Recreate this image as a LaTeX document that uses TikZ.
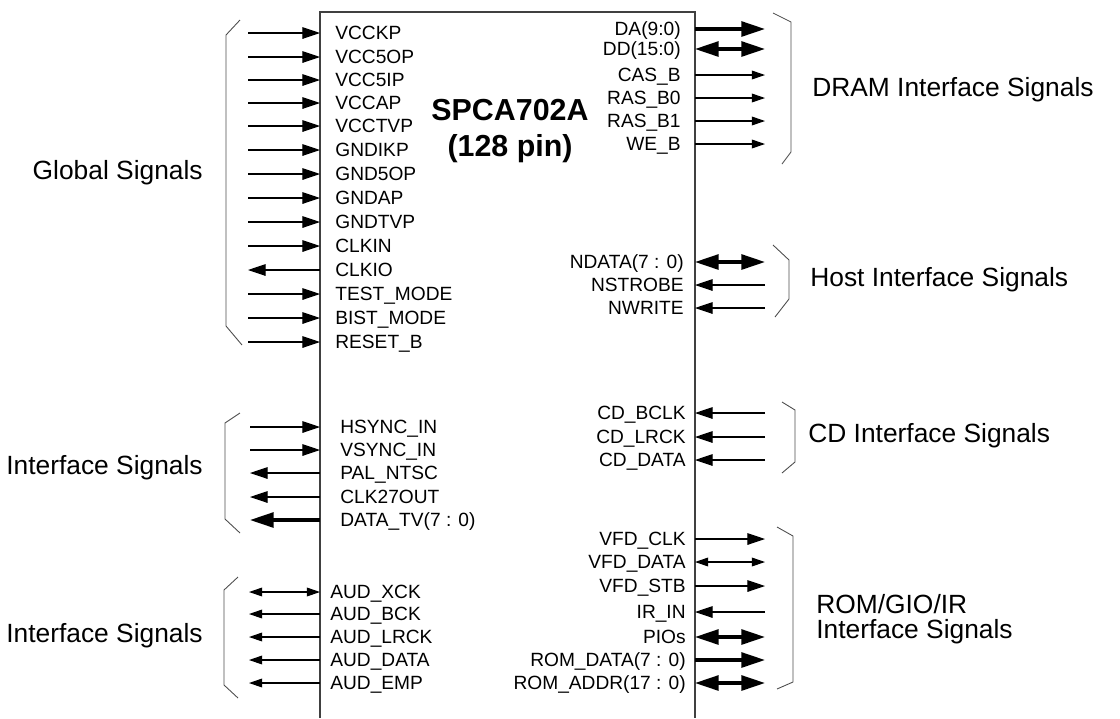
\documentclass[tikz,border=0pt]{standalone}
\usepackage{fontspec}
\setmainfont{Liberation Sans}
\usetikzlibrary{arrows.meta}
\tikzset{
  pinhead/.tip={Triangle[length=10pt,width=6.6pt]},
  smallhead/.tip={Triangle[length=7.5pt,width=5pt]},
  bushead/.tip={Triangle[length=13.5pt,width=8.5pt]},
  wire/.style={line width=0.6pt, black},
  toChip/.style={wire, -pinhead},
  fromChip/.style={wire, pinhead-},
  smallFrom/.style={wire, smallhead-},
  bothWay/.style={wire, smallhead-smallhead},
  bus/.style={line width=1.8pt, black},
  busFrom/.style={bus, bushead-},
  busBoth/.style={bus, bushead-bushead},
  chipline/.style={line width=0.6pt, black!75},
  brace/.style={line width=0.5pt, black!70},
  pin/.style={font=\fontsize{10.9}{13}\selectfont, inner sep=0pt,
    text height=0.72em, text depth=0pt},
  group/.style={font=\fontsize{15}{14.2}\selectfont, inner sep=0pt, align=left},
  title/.style={font=\fontsize{17.3}{21}\selectfont\bfseries, align=center}
}

\begin{document}
\begin{tikzpicture}[x=0.02cm, y=-0.02cm]
  \useasboundingbox (0,0) rectangle (1120,718);

  % chip body, open at the bottom
  \draw[chipline] (320,718) -- (320,12) -- (695,12) -- (695,718);
  \node[title] (chip) at (510,131) {SPCA702A\\(128 pin)};

  % global signals
  \foreach \y/\t/\s [count=\i] in {33/VCCKP/toChip, 57/VCC5OP/toChip,
      80/VCC5IP/toChip, 103/VCCAP/toChip, 126/VCCTVP/toChip, 150/GNDIKP/toChip,
      174/GND5OP/toChip, 198/GNDAP/toChip, 222/GNDTVP/toChip, 246/CLKIN/toChip,
      270/CLKIO/fromChip, 294/TEST\_MODE/toChip, 318/BIST\_MODE/toChip,
      342/RESET\_B/toChip} {
    \coordinate (glo\i) at (248,\y);
    \coordinate (gli\i) at (320,\y);
    \node[pin, anchor=west] (gl\i) at (335,\y) {\t};
    \draw[\s] (glo\i) -- (gli\i);
  }
  \draw[brace] (240,20) -- (226,35) -- (226,326) -- (242,345);
  \node[group, anchor=east] (glob) at (203,173) {Global Signals};

  % video interface
  \foreach \y/\t/\s [count=\i] in {427/HSYNC\_IN/toChip, 450/VSYNC\_IN/toChip,
      473/PAL\_NTSC/fromChip, 497/CLK27OUT/fromChip,
      520/{DATA\_TV(7 : 0)}/busFrom} {
    \coordinate (tvo\i) at (250,\y);
    \coordinate (tvi\i) at (320,\y);
    \node[pin, anchor=west] (tv\i) at (340,\y) {\t};
    \draw[\s] (tvo\i) -- (tvi\i);
  }
  \draw[brace] (240,413) -- (225,423) -- (225,519) -- (240,533);
  \node[group, anchor=east] (tvif) at (203,468) {Interface Signals};

  % audio interface
  \foreach \y/\t/\s [count=\i] in {592/AUD\_XCK/bothWay, 614/AUD\_BCK/smallFrom,
      637/AUD\_LRCK/smallFrom, 660/AUD\_DATA/smallFrom, 683/AUD\_EMP/smallFrom} {
    \coordinate (auo\i) at (249,\y);
    \coordinate (aui\i) at (320,\y);
    \node[pin, anchor=west] (au\i) at (330,\y) {\t};
    \draw[\s] (auo\i) -- (aui\i);
  }
  \draw[brace] (238,577) -- (224,590) -- (224,685) -- (238,698);
  \node[group, anchor=east] (auif) at (203,636) {Interface Signals};

  % DRAM interface
  \foreach \y/\t/\s [count=\i] in {29/{DA(9:0)}/busFrom, 49/{DD(15:0)}/busBoth,
      75/CAS\_B/smallFrom, 98/RAS\_B0/smallFrom, 121/RAS\_B1/smallFrom,
      144/WE\_B/smallFrom} {
    \coordinate (dro\i) at (765,\y);
    \coordinate (dri\i) at (695,\y);
    \node[pin, anchor=east] (dr\i) at (681,\y) {\t};
    \draw[\s] (dro\i) -- (dri\i);
  }
  \draw[brace] (773,13) -- (791,22) -- (791,152) -- (782,164);
  \node[group, anchor=west] (dram) at (812,90) {DRAM Interface Signals};

  % host interface
  \foreach \y/\t/\s [count=\i] in {262/{NDATA(7 : 0)}/busBoth,
      285/NSTROBE/toChip, 308/NWRITE/toChip} {
    \coordinate (hso\i) at (765,\y);
    \coordinate (hsi\i) at (695,\y);
    \node[pin, anchor=east] (hs\i) at (684,\y) {\t};
    \draw[\s] (hso\i) -- (hsi\i);
  }
  \draw[brace] (773,245) -- (789,260) -- (789,299) -- (775,317);
  \node[group, anchor=west] (host) at (810,280) {Host Interface Signals};

  % CD interface
  \foreach \y/\t/\s [count=\i] in {413/CD\_BCLK/toChip, 437/CD\_LRCK/toChip,
      460/CD\_DATA/toChip} {
    \coordinate (cdo\i) at (765,\y);
    \coordinate (cdi\i) at (695,\y);
    \node[pin, anchor=east] (cd\i) at (686,\y) {\t};
    \draw[\s] (cdo\i) -- (cdi\i);
  }
  \draw[brace] (782,402) -- (795,410) -- (795,462) -- (782,473);
  \node[group, anchor=west] (cdif) at (808,436) {CD Interface Signals};

  % ROM / GIO / IR interface
  \foreach \y/\t/\s [count=\i] in {539/VFD\_CLK/fromChip, 562/VFD\_DATA/bothWay,
      586/VFD\_STB/fromChip, 612/IR\_IN/toChip, 637/PIOs/busBoth,
      660/{ROM\_DATA(7 : 0)}/busFrom, 683/{ROM\_ADDR(17 : 0)}/busBoth} {
    \coordinate (rmo\i) at (765,\y);
    \coordinate (rmi\i) at (695,\y);
    \node[pin, anchor=east] (rm\i) at (686,\y) {\t};
    \draw[\s] (rmo\i) -- (rmi\i);
  }
  \draw[brace] (777,527) -- (793,536) -- (793,682) -- (777,689);
  \node[group, anchor=west] (romif) at (816,619) {ROM/GIO/IR\\Interface Signals};
\end{tikzpicture}
\end{document}
